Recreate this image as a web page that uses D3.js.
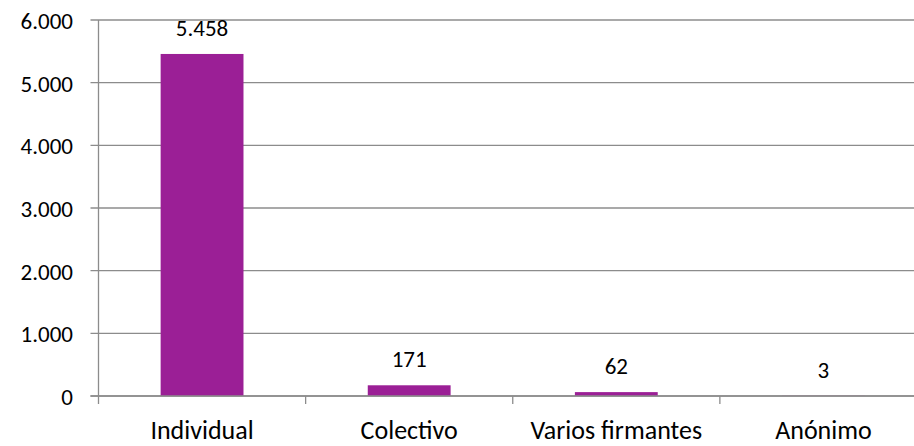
<!DOCTYPE html>
<html>
<head>
<meta charset="utf-8">
<script src="https://cdn.jsdelivr.net/npm/d3@7"></script>
<style>
  html, body { margin: 0; padding: 0; background: #fff; }
  svg text { font-family: Carlito, Calibri, "Open Sans", sans-serif; fill: #000; }
</style>
</head>
<body>
<svg id="chart" width="914" height="446"></svg>
<script>
const categories = ["Individual", "Colectivo", "Varios firmantes", "Anónimo"];
const values = [5458, 171, 62, 3];
const valueLabels = ["5.458", "171", "62", "3"];
const yTicks = [0, 1000, 2000, 3000, 4000, 5000, 6000];
const yTickLabels = ["0", "1.000", "2.000", "3.000", "4.000", "5.000", "6.000"];

const svg = d3.select("#chart");
const x0 = 98.5, x1 = 927, yTop = 20, yBot = 396;
const numSize = 23;
const catSize = 26;

const x = d3.scaleBand().domain(categories).range([x0, x1]).padding(0);
const y = d3.scaleLinear().domain([0, 6000]).range([yBot, yTop]);

const gridColor = "#8c8c8c";

svg.append("g").selectAll("line").data(yTicks).join("line")
  .attr("x1", x0 - 8).attr("x2", x1)
  .attr("y1", d => y(d)).attr("y2", d => y(d))
  .attr("stroke", gridColor).attr("stroke-width", 1.3);

svg.append("line").attr("x1", x0).attr("x2", x0).attr("y1", yTop).attr("y2", yBot + 8)
  .attr("stroke", gridColor).attr("stroke-width", 1.3);

const bounds = categories.map(c => x(c)).concat([x1]);
svg.append("g").selectAll("line").data(bounds.slice(1)).join("line")
  .attr("x1", d => d).attr("x2", d => d)
  .attr("y1", yBot).attr("y2", yBot + 8)
  .attr("stroke", gridColor).attr("stroke-width", 1.3);

svg.append("g").selectAll("text").data(yTicks).join("text")
  .attr("x", 73).attr("y", d => y(d) + 1)
  .attr("text-anchor", "end").attr("dominant-baseline", "central")
  .attr("font-size", numSize)
  .text((d, i) => yTickLabels[i]);

const bw = x.bandwidth() * 0.4;
svg.append("g").selectAll("rect").data(values).join("rect")
  .attr("x", (d, i) => x(categories[i]) + x.bandwidth() / 2 - bw / 2)
  .attr("width", bw)
  .attr("y", d => y(d))
  .attr("height", d => yBot - y(d))
  .attr("fill", "#9b1f96");

svg.append("line").attr("x1", x0 - 8).attr("x2", x1).attr("y1", yBot).attr("y2", yBot)
  .attr("stroke", gridColor).attr("stroke-width", 1.3);

svg.append("g").selectAll("text").data(values).join("text")
  .attr("x", (d, i) => x(categories[i]) + x.bandwidth() / 2)
  .attr("y", d => y(d) - 26)
  .attr("text-anchor", "middle").attr("dominant-baseline", "central")
  .attr("font-size", numSize)
  .text((d, i) => valueLabels[i]);

svg.append("g").selectAll("text").data(categories).join("text")
  .attr("x", d => x(d) + x.bandwidth() / 2)
  .attr("y", 430)
  .attr("text-anchor", "middle").attr("dominant-baseline", "central")
  .attr("font-size", catSize)
  .text(d => d);
</script>
</body>
</html>
